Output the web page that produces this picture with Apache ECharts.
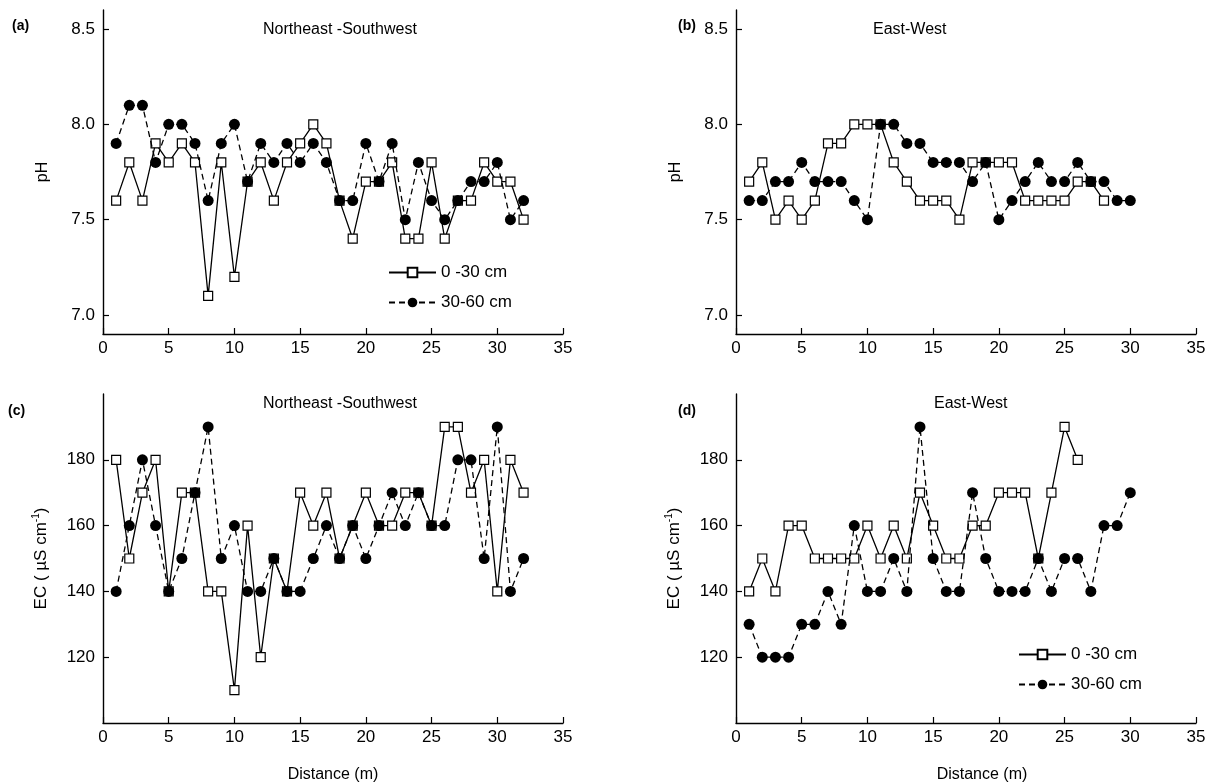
<!DOCTYPE html>
<html>
<head>
<meta charset="utf-8">
<script src="https://cdn.jsdelivr.net/npm/echarts@6/dist/echarts.min.js"></script>
<style>
  html, body { margin: 0; padding: 0; background: #fff; }
  #chart { width: 1209px; height: 784px; }
</style>
</head>
<body>
<div id="chart"></div>
<script>
// Sampling positions along each transect (m)
const distNE = [1,2,3,4,5,6,7,8,9,10,11,12,13,14,15,16,17,18,19,20,21,22,23,24,25,26,27,28,29,30,31,32];
const distEW = [1,2,3,4,5,6,7,8,9,10,11,12,13,14,15,16,17,18,19,20,21,22,23,24,25,26,27,28,29,30];

// Soil pH, Northeast-Southwest transect
const phNE_top = [7.6,7.8,7.6,7.9,7.8,7.9,7.8,7.1,7.8,7.2,7.7,7.8,7.6,7.8,7.9,8.0,7.9,7.6,7.4,7.7,7.7,7.8,7.4,7.4,7.8,7.4,7.6,7.6,7.8,7.7,7.7,7.5];
const phNE_sub = [7.9,8.1,8.1,7.8,8.0,8.0,7.9,7.6,7.9,8.0,7.7,7.9,7.8,7.9,7.8,7.9,7.8,7.6,7.6,7.9,7.7,7.9,7.5,7.8,7.6,7.5,7.6,7.7,7.7,7.8,7.5,7.6];

// Soil pH, East-West transect
const phEW_top = [7.7,7.8,7.5,7.6,7.5,7.6,7.9,7.9,8.0,8.0,8.0,7.8,7.7,7.6,7.6,7.6,7.5,7.8,7.8,7.8,7.8,7.6,7.6,7.6,7.6,7.7,7.7,7.6];
const phEW_sub = [7.6,7.6,7.7,7.7,7.8,7.7,7.7,7.7,7.6,7.5,8.0,8.0,7.9,7.9,7.8,7.8,7.8,7.7,7.8,7.5,7.6,7.7,7.8,7.7,7.7,7.8,7.7,7.7,7.6,7.6];

// Electrical conductivity (uS/cm), Northeast-Southwest transect
const ecNE_top = [180,150,170,180,140,170,170,140,140,110,160,120,150,140,170,160,170,150,160,170,160,160,170,170,160,190,190,170,180,140,180,170];
const ecNE_sub = [140,160,180,160,140,150,170,190,150,160,140,140,150,140,140,150,160,150,160,150,160,170,160,170,160,160,180,180,150,190,140,150];

// Electrical conductivity (uS/cm), East-West transect
const ecEW_top = [140,150,140,160,160,150,150,150,150,160,150,160,150,170,160,150,150,160,160,170,170,170,150,170,190,180];
const ecEW_sub = [130,120,120,120,130,130,140,130,160,140,140,150,140,190,150,140,140,170,150,140,140,140,150,140,150,150,140,160,160,170];

const phTicks = [7.0,7.5,8.0,8.5];
const ecTicks = [120,140,160,180];

const depthTop = '0 -30 cm';
const depthSub = '30-60 cm';

const FONT = '"Liberation Sans", Arial, sans-serif';
const INK = '#000';

function pairs(xs, ys) {
  return ys.map((y, i) => [xs[i], y]);
}

const grids = [
  { left: 103, top: 10, width: 460, height: 324 },
  { left: 736, top: 10, width: 460, height: 324 },
  { left: 103, top: 394, width: 460, height: 329 },
  { left: 736, top: 394, width: 460, height: 329 }
];

function xAxis(gi, named, shift) {
  return {
    type: 'value', gridIndex: gi, min: 0, max: 35, interval: 5,
    axisLine: { show: true, lineStyle: { color: INK, width: 1.4 } },
    axisTick: { show: true, inside: true, length: 6, lineStyle: { color: INK, width: 1.2 } },
    axisLabel: { color: INK, fontSize: 17, fontFamily: FONT, margin: 6 },
    splitLine: { show: false },
    name: named ? 'Distance (m)' : '',
    nameLocation: 'middle', nameGap: 44,
    nameTextStyle: { color: INK, fontSize: 16, fontFamily: FONT, padding: [0, 0, 0, shift || 0] }
  };
}

function yAxisPH(gi) {
  return {
    type: 'value', gridIndex: gi, min: 6.9, max: 8.6,
    axisLine: { show: true, lineStyle: { color: INK, width: 1.4 } },
    axisTick: { show: true, inside: true, length: 6, customValues: phTicks, lineStyle: { color: INK, width: 1.2 } },
    axisLabel: { color: INK, fontSize: 17, fontFamily: FONT, margin: 8, customValues: phTicks,
      formatter: v => v.toFixed(1) },
    splitLine: { show: false },
    name: 'pH', nameLocation: 'middle', nameGap: 52, nameRotate: 90,
    nameTextStyle: { color: INK, fontSize: 16, fontFamily: FONT }
  };
}

function yAxisEC(gi) {
  return {
    type: 'value', gridIndex: gi, min: 100, max: 200,
    axisLine: { show: true, lineStyle: { color: INK, width: 1.4 } },
    axisTick: { show: true, inside: true, length: 6, customValues: ecTicks, lineStyle: { color: INK, width: 1.2 } },
    axisLabel: { color: INK, fontSize: 17, fontFamily: FONT, margin: 8, customValues: ecTicks },
    splitLine: { show: false },
    name: '{n|EC ( µS cm}{s|-1}{n|)}', nameLocation: 'middle', nameGap: 52, nameRotate: 90,
    nameTextStyle: {
      color: INK, fontFamily: FONT,
      rich: {
        n: { fontSize: 17, fontFamily: FONT, color: INK, lineHeight: 20 },
        s: { fontSize: 10, fontFamily: FONT, color: INK, lineHeight: 10, verticalAlign: 'top' }
      }
    }
  };
}

function topSeries(gi, data) {
  return {
    name: depthTop, type: 'line', xAxisIndex: gi, yAxisIndex: gi, data,
    symbol: 'rect', symbolSize: 9,
    itemStyle: { color: '#fff', borderColor: INK, borderWidth: 1.2 },
    lineStyle: { color: INK, width: 1.3, type: 'solid' },
    z: 2, animation: false
  };
}

function subSeries(gi, data) {
  return {
    name: depthSub, type: 'line', xAxisIndex: gi, yAxisIndex: gi, data,
    symbol: 'circle', symbolSize: 11,
    itemStyle: { color: INK, borderColor: INK, borderWidth: 0 },
    lineStyle: { color: INK, width: 1.3, type: [6, 4] },
    z: 3, animation: false
  };
}

function legendAt(left, top) {
  return {
    left, top, orient: 'vertical', itemWidth: 47, itemHeight: 12, itemGap: 13,
    padding: 0, selectedMode: false,
    data: [depthTop, depthSub],
    textStyle: { color: INK, fontSize: 17, fontFamily: FONT, lineHeight: 16 }
  };
}

const titleStyle = { color: INK, fontSize: 16, fontWeight: 'normal', fontFamily: FONT };
const tagStyle = { color: INK, fontSize: 14, fontWeight: 'bold', fontFamily: FONT };

const option = {
  backgroundColor: '#fff',
  animation: false,
  title: [
    { text: 'Northeast -Southwest', left: 263, top: 22, textStyle: titleStyle, padding: 0 },
    { text: 'East-West', left: 873, top: 22, textStyle: titleStyle, padding: 0 },
    { text: 'Northeast -Southwest', left: 263, top: 396, textStyle: titleStyle, padding: 0 },
    { text: 'East-West', left: 934, top: 396, textStyle: titleStyle, padding: 0 },
    { text: '(a)', left: 12, top: 19, textStyle: tagStyle, padding: 0 },
    { text: '(b)', left: 678, top: 19, textStyle: tagStyle, padding: 0 },
    { text: '(c)', left: 8, top: 404, textStyle: tagStyle, padding: 0 },
    { text: '(d)', left: 678, top: 404, textStyle: tagStyle, padding: 0 }
  ],
  legend: [legendAt(388, 264), legendAt(1018, 646)],
  grid: grids,
  xAxis: [xAxis(0, false), xAxis(1, false), xAxis(2, true, 0), xAxis(3, true, 32)],
  yAxis: [yAxisPH(0), yAxisPH(1), yAxisEC(2), yAxisEC(3)],
  series: [
    topSeries(0, pairs(distNE, phNE_top)),
    subSeries(0, pairs(distNE, phNE_sub)),
    topSeries(1, pairs(distEW, phEW_top)),
    subSeries(1, pairs(distEW, phEW_sub)),
    topSeries(2, pairs(distNE, ecNE_top)),
    subSeries(2, pairs(distNE, ecNE_sub)),
    topSeries(3, pairs(distEW, ecEW_top)),
    subSeries(3, pairs(distEW, ecEW_sub))
  ]
};

const chart = echarts.init(document.getElementById('chart'), null, { renderer: 'canvas' });
chart.setOption(option);
</script>
</body>
</html>
